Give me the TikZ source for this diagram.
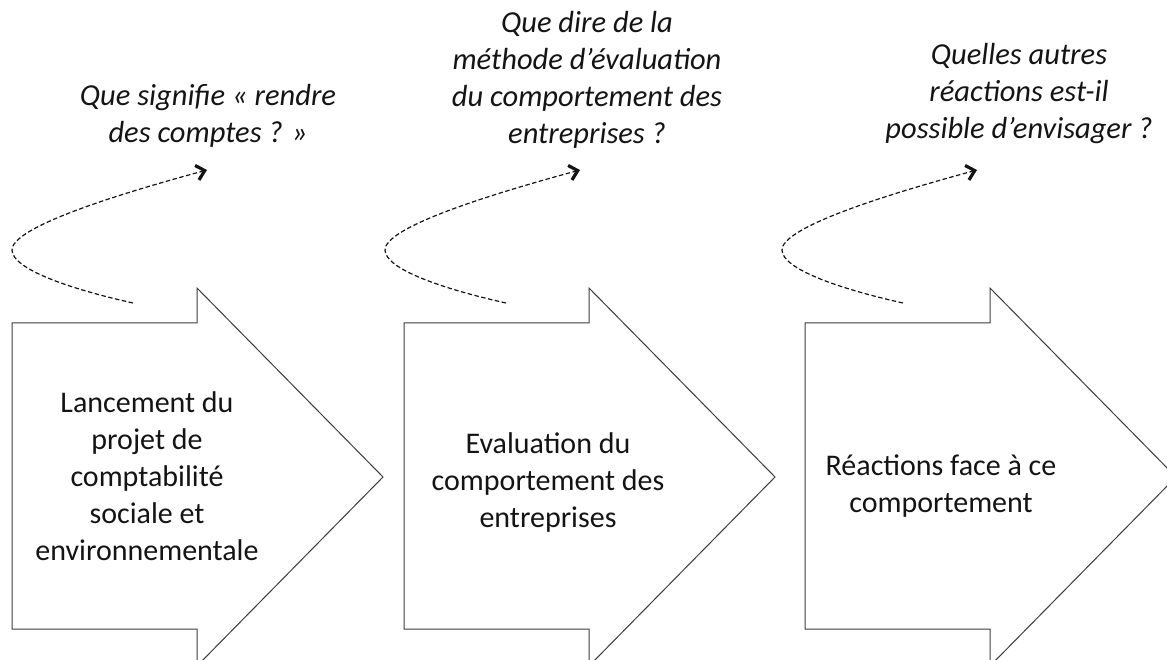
\documentclass[tikz,border=0pt]{standalone}
\usepackage{fontspec}
\setmainfont{Carlito}
\usepackage{tikz}
\usetikzlibrary{arrows.meta}
\usetikzlibrary{calc}
\definecolor{edgegray}{RGB}{60,60,60}
\definecolor{inkblack}{RGB}{20,20,20}
\tikzset{stagebody/.style={fill=white, draw=edgegray, line width=1pt, line join=miter},
  stagetext/.style={align=center, text=inkblack, inner sep=0pt, font=\fontsize{30}{37}\selectfont},
  asktext/.style={align=center, text=inkblack, inner sep=0pt, anchor=south, font=\itshape\fontsize{30.5}{37}\selectfont},
  askline/.style={draw=inkblack, line width=1.2pt, dash pattern=on 4.5pt off 2.5pt, -{Straight Barb[length=8pt,width=15pt,line width'=3.2pt]}}}
\newcommand\stagearrow[5]{\draw[stagebody,shift={(#1,0)}] (0,30) -- (0,336) -- (185,336) -- (185,371) -- (371,182) -- (185,-7) -- (185,30) -- cycle;\node[stagetext] (#2) at (#3,#4) {#5};}
\newcommand\askcurve[2]{\coordinate (#2s) at (#1+133,356);\coordinate (#2m) at (#1+12,409);\coordinate (#2e) at (#1+207,489);\draw[askline] (#2s) .. controls +(-63,14) and +(0,-19) .. (#2m) .. controls +(0,21) and +(-107,-29) .. (#2e);}

\begin{document}
\begin{tikzpicture}[x=1pt,y=1pt]
\useasboundingbox (0,0) rectangle (1167,659);
\clip (0,0) rectangle (1167,659);

\stagearrow{12}{stage1}{147}{183}{Lancement du\\projet de\\comptabilité\\sociale et\\environnementale}
\stagearrow{404}{stage2}{548}{176}{Evaluation du\\comportement des\\entreprises}
\stagearrow{805}{stage3}{941}{173}{Réactions face à ce\\comportement}

\askcurve{0}{c1}
\askcurve{373}{c2}
\askcurve{770}{c3}

\node[asktext] (ask1) at (208,511) {Que signifie « rendre\\des comptes ? »};
\node[asktext] (ask2) at (587,510) {Que dire de la\\méthode d’évaluation\\du comportement des\\entreprises ?};
\node[asktext] (ask3) at (1019,515) {Quelles autres\\réactions est-il\\possible d’envisager ?};
\end{tikzpicture}
\end{document}
